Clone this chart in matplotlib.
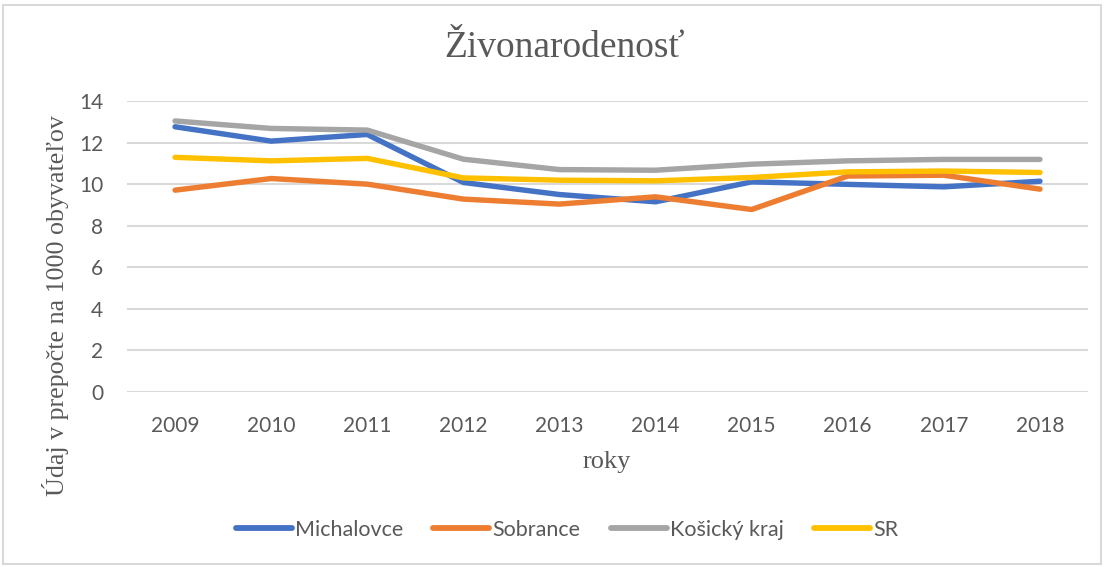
import matplotlib
matplotlib.use("Agg")
import matplotlib.pyplot as plt
from matplotlib.patches import Rectangle

years = ["2009", "2010", "2011", "2012", "2013", "2014", "2015", "2016", "2017", "2018"]
michalovce = [12.76, 12.07, 12.39, 10.08, 9.50, 9.15, 10.11, 9.99, 9.87, 10.14]
sobrance = [9.71, 10.27, 10.00, 9.28, 9.04, 9.39, 8.78, 10.39, 10.43, 9.76]
kosicky_kraj = [13.04, 12.68, 12.60, 11.20, 10.70, 10.67, 10.96, 11.12, 11.19, 11.19]
sr = [11.29, 11.12, 11.24, 10.30, 10.19, 10.16, 10.32, 10.59, 10.63, 10.56]

series_names = ["Michalovce", "Sobrance", "Košický kraj", "SR"]
series_values = [michalovce, sobrance, kosicky_kraj, sr]
colors = ["#4472C4", "#ED7D31", "#A5A5A5", "#FFC000"]

W, H = 1104, 567
fig = plt.figure(figsize=(W / 100, H / 100), dpi=100)
fig.patch.set_facecolor("white")

# outer chart border
fig.add_artist(Rectangle((3 / W, 3 / H), (W - 6) / W, (H - 8) / H,
                         transform=fig.transFigure, fill=False,
                         edgecolor="#d9d9d9", linewidth=1.5))

left, right, top, bottom = 127, 1088, 101, 392
ax = fig.add_axes([left / W, 1 - bottom / H, (right - left) / W, (bottom - top) / H])

x = list(range(len(years)))
for name, vals, c in zip(series_names, series_values, colors):
    ax.plot(x, vals, color=c, linewidth=3.9, solid_capstyle="round",
            solid_joinstyle="round", label=name)

ax.set_xlim(-0.5, len(years) - 0.5)
ax.set_ylim(0, 14)
ax.set_yticks(range(0, 15, 2))
ax.set_xticks(x)
ax.set_xticklabels(years)
ax.grid(axis="y", color="#d9d9d9", linewidth=1.5)
ax.set_axisbelow(True)
for s in ax.spines.values():
    s.set_visible(False)
ax.tick_params(length=0, labelsize=15, labelcolor="#595959")
ax.tick_params(axis="y", pad=17)
ax.tick_params(axis="x", pad=17)
for lab in ax.get_xticklabels() + ax.get_yticklabels():
    lab.set_fontfamily("Lato")

fig.text(565 / W, 1 - 48 / H, "Živonarodenosť", ha="center", va="center",
         fontsize=27, color="#595959", family="Liberation Serif")
fig.text(607 / W, 1 - 462 / H, "roky", ha="center", va="center",
         fontsize=19, color="#595959", family="Liberation Serif")
fig.text(56 / W, 1 - 306 / H, "Údaj v prepočte na 1000 obyvateľov", ha="center",
         va="center", rotation=90, fontsize=18.7, color="#595959",
         family="Liberation Serif")

leg = fig.legend(loc="center", bbox_to_anchor=(567 / W, 1 - 530 / H), ncol=4,
                 frameon=False, prop={"family": "Lato", "size": 15.5},
                 handlelength=2.6, handletextpad=0.15, columnspacing=1.4)
for t in leg.get_texts():
    t.set_color("#595959")
for h in leg.get_lines():
    h.set_linewidth(4.2)

fig.savefig("out.png", dpi=100)
